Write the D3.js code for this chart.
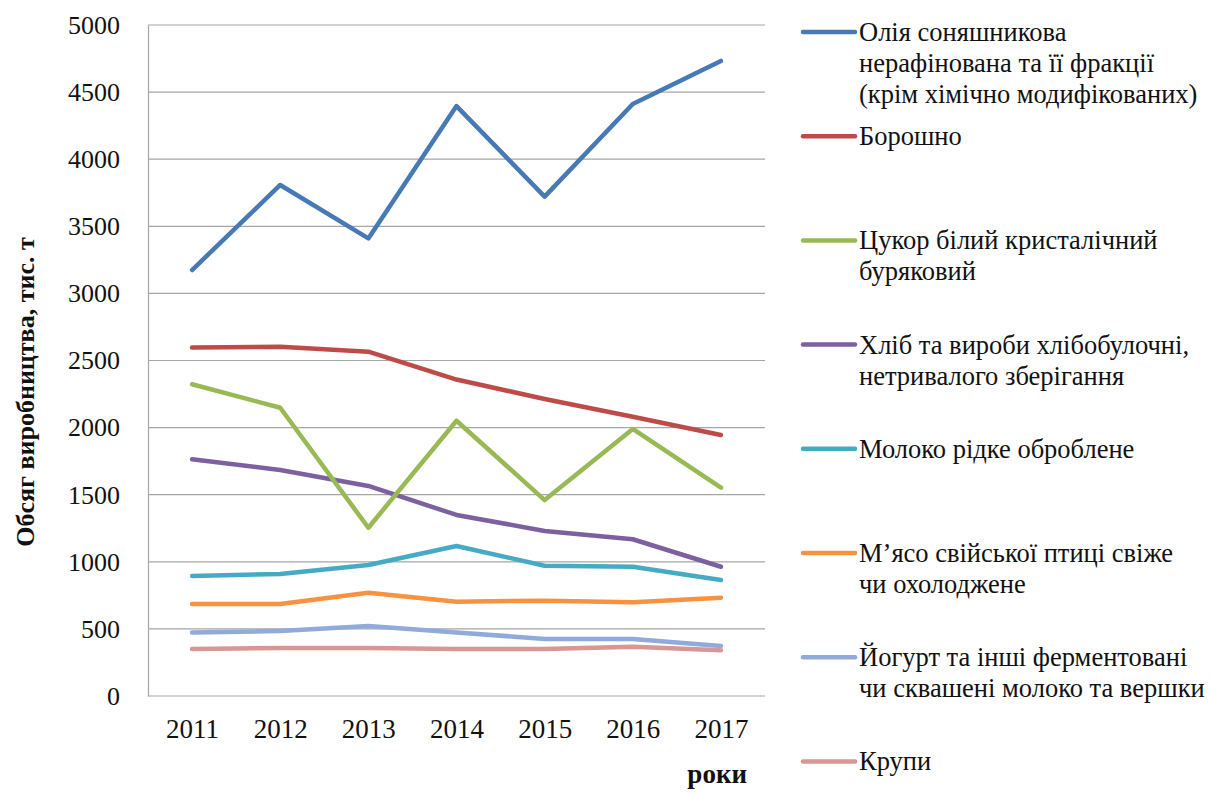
<!DOCTYPE html>
<html>
<head>
<meta charset="utf-8">
<script src="https://cdn.jsdelivr.net/npm/d3@7"></script>
<style>
  html, body { margin: 0; padding: 0; background: #fff; }
  svg { display: block; }
</style>
</head>
<body>
<svg id="chart" width="1213" height="796"></svg>
<script>
// Years on the horizontal axis
const years = ["2011", "2012", "2013", "2014", "2015", "2016", "2017"];

// Production volume, thousand tonnes
const oil     = [3174, 3808, 3410, 4396, 3721, 4411, 4732];
const flour   = [2596, 2603, 2566, 2358, 2213, 2081, 1945];
const sugar   = [2323, 2148, 1254, 2051, 1460, 1990, 1552];
const bread   = [1764, 1684, 1565, 1349, 1230, 1168, 963];
const milk    = [894, 909, 976, 1118, 971, 963, 864];
const poultry = [686, 686, 770, 703, 710, 698, 733];
const yogurt  = [474, 484, 522, 474, 425, 425, 373];
const cereals = [350, 358, 358, 350, 350, 367, 340];

const yTicks = [0, 500, 1000, 1500, 2000, 2500, 3000, 3500, 4000, 4500, 5000];

const seriesNames = [
  ["Олія соняшникова", "нерафінована та її фракції", "(крім хімічно модифікованих)"],
  ["Борошно"],
  ["Цукор  білий кристалічний", "буряковий"],
  ["Хліб та вироби хлібобулочні,", "нетривалого зберігання"],
  ["Молоко рідке оброблене"],
  ["М’ясо свійської птиці свіже", "чи охолоджене"],
  ["Йогурт та інші ферментовані", "чи сквашені молоко та вершки"],
  ["Крупи"]
];
const seriesValues = [oil, flour, sugar, bread, milk, poultry, yogurt, cereals];
const seriesColors = ["#4779B6", "#BE4B48", "#98B954", "#7D60A0", "#46AAC5", "#F69240", "#8FAADB", "#D99694"];

const FONT = "'Liberation Serif', 'Times New Roman', serif";
const svg = d3.select("#chart");
const plot = { left: 148, right: 765, top: 25, bottom: 696 };

const x = d3.scalePoint().domain(years).range([plot.left, plot.right]).padding(0.5);
const y = d3.scaleLinear().domain([0, 5000]).range([plot.bottom, plot.top]);

// Horizontal gridlines
svg.append("g")
  .selectAll("line")
  .data(yTicks.filter(d => d > 0))
  .join("line")
  .attr("x1", plot.left).attr("x2", plot.right)
  .attr("y1", d => y(d)).attr("y2", d => y(d))
  .attr("stroke", "#A6A6A6").attr("stroke-width", 1.2);

// Y axis
const yAxis = svg.append("g")
  .attr("transform", `translate(${plot.left},0)`)
  .call(d3.axisLeft(y).tickValues(yTicks).tickFormat(d3.format("d")).tickSize(0).tickPadding(28));
yAxis.select(".domain").attr("stroke", "#A6A6A6").attr("stroke-width", 1.2);
yAxis.selectAll("text")
  .style("font-family", FONT).style("font-size", "26px").attr("fill", "#111");

// X axis
const xAxis = svg.append("g")
  .attr("transform", `translate(0,${plot.bottom})`)
  .call(d3.axisBottom(x).tickSize(0).tickPadding(23));
xAxis.select(".domain").attr("stroke", "#A6A6A6").attr("stroke-width", 1.2)
  .attr("d", `M${plot.left},0H${plot.right}`);
xAxis.selectAll("text")
  .style("font-family", FONT).style("font-size", "27px").attr("fill", "#111");

// Axis titles
svg.append("text")
  .attr("transform", "translate(34,392) rotate(-90)")
  .attr("text-anchor", "middle")
  .style("font-family", FONT).style("font-weight", "bold").style("font-size", "26px")
  .attr("fill", "#111")
  .text("Обсяг виробництва, тис. т");

svg.append("text")
  .attr("x", 747).attr("y", 783)
  .attr("text-anchor", "end")
  .style("font-family", FONT).style("font-weight", "bold").style("font-size", "27px")
  .attr("fill", "#111")
  .text("роки");

// Series lines
const line = d3.line().x((d, i) => x(years[i])).y(d => y(d));
svg.append("g")
  .selectAll("path")
  .data(seriesValues.map((v, i) => ({ v, c: seriesColors[i] })).reverse())
  .join("path")
  .attr("d", d => line(d.v))
  .attr("fill", "none")
  .attr("stroke", d => d.c)
  .attr("stroke-width", 4.5)
  .attr("stroke-linejoin", "round")
  .attr("stroke-linecap", "round");

// Legend
const legendTop = 32, legendStep = 104.2;
const legend = svg.append("g");
seriesNames.forEach((lines, i) => {
  const cy = legendTop + i * legendStep;
  legend.append("line")
    .attr("x1", 803).attr("x2", 855)
    .attr("y1", cy).attr("y2", cy)
    .attr("stroke", seriesColors[i]).attr("stroke-width", 4.5)
    .attr("stroke-linecap", "round");
  const t = legend.append("text")
    .attr("x", 859).attr("y", cy + 9)
    .style("font-family", FONT).style("font-size", "26.5px")
    .attr("fill", "#111");
  lines.forEach((s, k) => {
    t.append("tspan").attr("x", 859).attr("dy", k === 0 ? 0 : 31).text(s);
  });
});
</script>
</body>
</html>
